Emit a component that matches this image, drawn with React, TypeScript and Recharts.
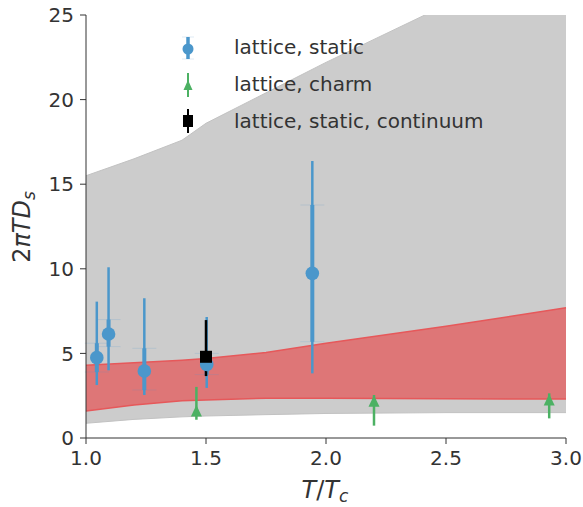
import { Area, ComposedChart, ErrorBar, Scatter, XAxis, YAxis } from "recharts";

// theory bands, sampled in T/Tc
const BAND_T = [1.0, 1.2, 1.4, 1.5, 1.75, 2.0, 2.5, 3.0];
const GREY_LO = [0.87, 1.1, 1.25, 1.3, 1.38, 1.45, 1.5, 1.5];
const GREY_HI = [15.5, 16.5, 17.6, 18.6, 20.4, 22.2, 25.6, 29.2];
const RED_LO = [1.6, 1.95, 2.2, 2.25, 2.35, 2.35, 2.32, 2.3];
const RED_HI = [4.3, 4.45, 4.6, 4.7, 5.05, 5.6, 6.6, 7.7];

// lattice, static: central value, inner (stat) and outer (total) ranges
const STATIC_T = [1.045, 1.094, 1.243, 1.503, 1.943];
const STATIC_V = [4.75, 6.15, 3.96, 4.35, 9.73];
const STATIC_IN_LO = [3.9, 5.4, 2.84, 3.75, 5.69];
const STATIC_IN_HI = [5.6, 7.0, 5.3, 5.0, 13.77];
const STATIC_OUT_LO = [3.13, 4.0, 2.54, 2.96, 3.82];
const STATIC_OUT_HI = [8.06, 10.09, 8.26, 7.15, 16.37];

// lattice, charm
const CHARM_T = [1.46, 2.2, 2.93];
const CHARM_V = [1.6, 2.17, 2.25];
const CHARM_LO = [1.08, 0.73, 1.16];
const CHARM_HI = [3.02, 2.54, 2.64];

// lattice, static, continuum
const CONT_T = [1.5];
const CONT_V = [4.8];
const CONT_LO = [3.66];
const CONT_HI = [6.97];

const X_TICKS = [1.0, 1.5, 2.0, 2.5, 3.0];
const Y_TICKS = [0, 5, 10, 15, 20, 25];

const BLUE = "#4b97cb";
const BLUE_FAINT = "rgba(75,151,203,0.18)";
const GREEN = "#4cb163";
const INK = "#333333";
const FONT = "DejaVu Sans";

const bands = BAND_T.map((t, i) => ({
  t,
  grey: [GREY_LO[i], GREY_HI[i]],
  red: [RED_LO[i], RED_HI[i]],
}));

const staticPts = STATIC_T.map((t, i) => ({
  t,
  v: STATIC_V[i],
  inner: [STATIC_V[i] - STATIC_IN_LO[i], STATIC_IN_HI[i] - STATIC_V[i]],
  outer: [STATIC_V[i] - STATIC_OUT_LO[i], STATIC_OUT_HI[i] - STATIC_V[i]],
}));

const charmPts = CHARM_T.map((t, i) => ({
  t,
  v: CHARM_V[i],
  err: [CHARM_V[i] - CHARM_LO[i], CHARM_HI[i] - CHARM_V[i]],
}));

const contPts = CONT_T.map((t, i) => ({
  t,
  v: CONT_V[i],
  err: [CONT_V[i] - CONT_LO[i], CONT_HI[i] - CONT_V[i]],
}));

const Dot = (p: any) => <circle cx={p.cx} cy={p.cy} r={6.8} fill={BLUE} />;
const Tri = (p: any) => (
  <polygon
    points={`${p.cx},${p.cy - 6} ${p.cx - 5.5},${p.cy + 5.5} ${p.cx + 5.5},${p.cy + 5.5}`}
    fill={GREEN}
  />
);
const Sq = (p: any) => <rect x={p.cx - 6} y={p.cy - 6} width={12} height={12} fill="#000" />;

const yTitle = () => (
  <text
    x={30}
    y={227}
    transform="rotate(-90 30 227)"
    textAnchor="middle"
    fontFamily={FONT}
    fontSize={24}
    fill={INK}
  >
    <tspan>2</tspan>
    <tspan fontStyle="italic">πTD</tspan>
    <tspan fontStyle="italic" fontSize={17} dy={5}>s</tspan>
  </text>
);

const xTitle = () => (
  <text x={325} y={498} textAnchor="middle" fontFamily={FONT} fontSize={24} fill={INK}>
    <tspan fontStyle="italic">T</tspan>
    <tspan>/</tspan>
    <tspan fontStyle="italic">T</tspan>
    <tspan fontStyle="italic" fontSize={17} dy={4}>c</tspan>
  </text>
);

function LegendRow({ kind, label }: { kind: "static" | "charm" | "cont"; label: string }) {
  return (
    <div style={{ display: "flex", alignItems: "center", height: 37 }}>
      <svg width={24} height={30} style={{ marginRight: 34 }}>
        {kind === "static" && (
          <g>
            <line x1={6} x2={18} y1={5} y2={5} stroke={BLUE_FAINT} strokeWidth={1} />
            <line x1={6} x2={18} y1={27} y2={27} stroke={BLUE_FAINT} strokeWidth={1} />
            <line x1={12} x2={12} y1={5} y2={27} stroke={BLUE} strokeWidth={3.5} />
            <circle cx={12} cy={17} r={5.5} fill={BLUE} />
          </g>
        )}
        {kind === "charm" && (
          <g>
            <line x1={12} x2={12} y1={4} y2={28} stroke={GREEN} strokeWidth={2} />
            <polygon points="12,11 7.5,21 16.5,21" fill={GREEN} />
          </g>
        )}
        {kind === "cont" && (
          <g>
            <line x1={12} x2={12} y1={3} y2={27} stroke="#000" strokeWidth={2} />
            <rect x={7} y={9} width={10} height={12} fill="#000" />
          </g>
        )}
      </svg>
      <span style={{ fontFamily: FONT, fontSize: 20, color: INK }}>{label}</span>
    </div>
  );
}

export default function App() {
  return (
    <div style={{ position: "absolute", left: 0, top: 0, width: 583, height: 507, background: "#fff" }}>
      <ComposedChart width={583} height={507} margin={{ top: 15, right: 17, left: 26, bottom: 29 }}>
        <XAxis
          type="number"
          dataKey="t"
          domain={[1, 3]}
          ticks={X_TICKS}
          interval={0}
          tickFormatter={(v: number) => v.toFixed(1)}
          height={40}
          tickSize={6}
          tickMargin={7}
          stroke={INK}
          tick={{ fill: INK, fontSize: 20, fontFamily: FONT }}
          label={xTitle}
        />
        <YAxis
          type="number"
          domain={[0, 25]}
          ticks={Y_TICKS}
          interval={0}
          allowDataOverflow
          width={60}
          tickSize={6}
          tickMargin={6}
          stroke={INK}
          tick={{ fill: INK, fontSize: 20, fontFamily: FONT }}
          label={yTitle}
        />
        <Area
          data={bands}
          dataKey="grey"
          type="linear"
          fill="#cccccc"
          fillOpacity={1}
          stroke="#c2c2c2"
          strokeWidth={1}
          isAnimationActive={false}
        />
        <Area
          data={bands}
          dataKey="red"
          type="linear"
          fill="#de7677"
          fillOpacity={1}
          stroke="#e6585a"
          strokeWidth={1.5}
          isAnimationActive={false}
        />
        <Scatter data={staticPts} dataKey="v" shape={Dot} isAnimationActive={false}>
          <ErrorBar dataKey="inner" direction="y" width={12} stroke={BLUE_FAINT} strokeWidth={1} isAnimationActive={false} />
          <ErrorBar dataKey="outer" direction="y" width={0} stroke={BLUE} strokeWidth={2.5} isAnimationActive={false} />
          <ErrorBar dataKey="inner" direction="y" width={0} stroke={BLUE} strokeWidth={4} isAnimationActive={false} />
        </Scatter>
        <Scatter data={charmPts} dataKey="v" shape={Tri} isAnimationActive={false}>
          <ErrorBar dataKey="err" direction="y" width={0} stroke={GREEN} strokeWidth={2.5} isAnimationActive={false} />
        </Scatter>
        <Scatter data={contPts} dataKey="v" shape={Sq} isAnimationActive={false}>
          <ErrorBar dataKey="err" direction="y" width={0} stroke="#000" strokeWidth={2.5} isAnimationActive={false} />
        </Scatter>
      </ComposedChart>
      <div style={{ position: "absolute", left: 176, top: 28 }}>
        <LegendRow kind="static" label="lattice, static" />
        <LegendRow kind="charm" label="lattice, charm" />
        <LegendRow kind="cont" label="lattice, static, continuum" />
      </div>
    </div>
  );
}
